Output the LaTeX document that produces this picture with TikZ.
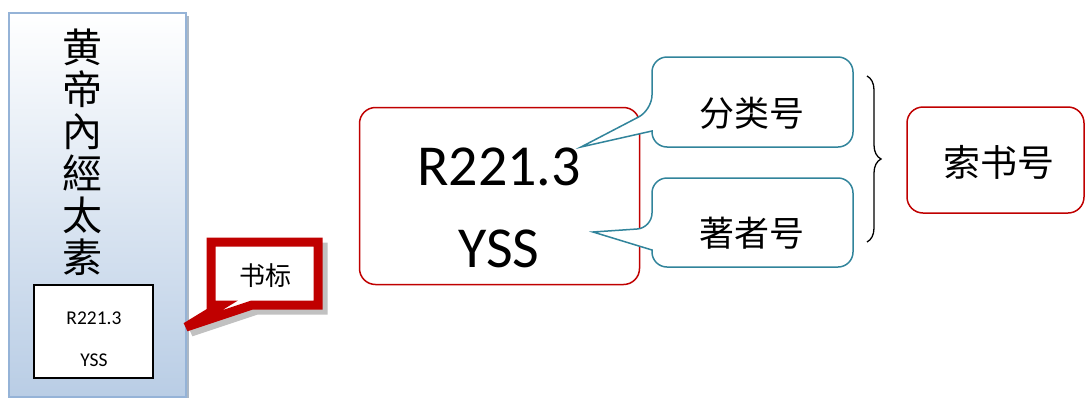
\documentclass[tikz,border=0pt]{standalone}
\usepackage{fontspec}
\setmainfont{Carlito}
\newfontfamily\cjk{Noto Sans CJK SC}
\usetikzlibrary{decorations.pathreplacing}
\definecolor{cred}{HTML}{C00000}
\definecolor{cteal}{HTML}{31849B}
\definecolor{bookedge}{HTML}{95B3D7}
\definecolor{bookfill}{HTML}{B9CDE5}
\begin{document}
\begin{tikzpicture}[x=1pt,y=-1pt,
  redbox/.style={draw=cred, line width=1.5pt, rounded corners=16pt, fill=white, inner sep=0pt},
  callout/.style={draw=cteal, line width=1.5pt, fill=white},
  cjktext/.style={font=\cjk\fontsize{#1}{#1}\selectfont, inner sep=0pt},
  lat/.style={font=\fontsize{#1}{#1}\selectfont, inner sep=0pt, anchor=base}]
\useasboundingbox (0,0) rectangle (1085,397);
% book
\fill[bookedge!70!black, opacity=0.55] (12,16) rectangle (189,399);
\node[draw=bookedge, line width=2pt, top color=white, bottom color=bookfill,
      minimum width=177pt, minimum height=384pt, inner sep=0pt] (book) at (97.5,205) {};
\node[cjktext=40, align=center, font=\cjk\fontsize{40}{42}\selectfont] (title) at (82,152) {黄\\帝\\內\\經\\太\\素};
\node[draw=black, line width=1.3pt, fill=white, minimum width=119pt, minimum height=93pt, inner sep=0pt] (label) at (93.5,331.5) {};
\node[lat=19.5] (lcode) at (94,324) {R221.3};
\node[lat=19.5] (lyss) at (94,366) {YSS};
% shubiao callout
\draw[line width=9pt, black!35, opacity=0.7, line join=miter, miter limit=4] (216,247) -- (323,247) -- (323,310) -- (257,310) -- (191,332) -- (227,310) -- (216,310) -- cycle;
\draw[line width=9pt, cred, fill=white, line join=miter, miter limit=4] (211,242) -- (318,242) -- (318,305) -- (252,305) -- (186,327) -- (222,305) -- (211,305) -- cycle;
\node[cjktext=26] (sb) at (265,276) {书标};
% main code box
\node[redbox, minimum width=280pt, minimum height=177pt] (code) at (499.5,196) {};
\node[lat=58] (code1) at (499,185) {R221.3};
\node[lat=58] (code2) at (499,267) {YSS};
% callouts
\draw[callout] (652,131) [rounded corners=15pt] -- (652,147) -- (853,147) -- (853,57) -- (652,57) -- (652,110) [sharp corners] -- (581,147) -- cycle;
\node[cjktext=35] (flh) at (752,113) {分类号};
\draw[callout] (652,250) [rounded corners=15pt] -- (652,267) -- (853,267) -- (853,178) -- (652,178) -- (652,228) [sharp corners] -- (593,232) -- cycle;
\node[cjktext=35] (zzh) at (752,233) {著者号};
% brace
\coordinate (bt) at (867,76);
\coordinate (bb) at (867,242);
\draw[line width=1.3pt, decorate, decoration={brace, amplitude=14pt}] (bt) -- (bb);
% suoshuhao
\node[redbox, minimum width=177pt, minimum height=106pt] (ssh) at (995.5,160) {};
\node[cjktext=37] (sshtext) at (999,162) {索书号};
\end{tikzpicture}
\end{document}
